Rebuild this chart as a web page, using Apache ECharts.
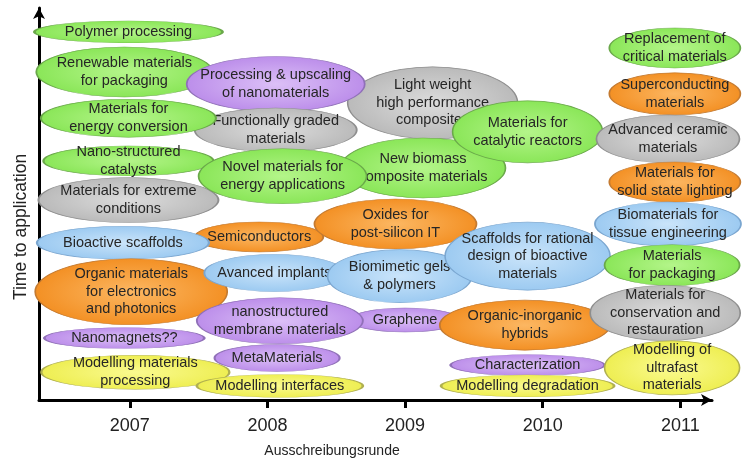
<!DOCTYPE html>
<html>
<head>
<meta charset="utf-8">
<script src="https://cdn.jsdelivr.net/npm/echarts@6/dist/echarts.min.js"></script>
<style>
html,body{margin:0;padding:0;background:#fff;}
#main{width:754px;height:458px;}
</style>
</head>
<body>
<div id="main"></div>
<script>
// ---- data (listed in drawing order, back to front) ----
const labels = [
  'Polymer processing',
  'Renewable materials\nfor packaging',
  'Light weight\nhigh performance\ncomposites',
  'Processing & upscaling\nof nanomaterials',
  'Functionally graded\nmaterials',
  'Materials for\nenergy conversion',
  'Nano-structured\ncatalysts',
  'Materials for extreme\nconditions',
  'New biomass\ncomposite materials',
  'Novel materials for\nenergy applications',
  'Materials for\ncatalytic reactors',
  'Semiconductors',
  'Bioactive scaffolds',
  'Organic materials\nfor electronics\nand photonics',
  'Avanced implants',
  'Oxides for\npost-silicon IT',
  'Biomimetic gels\n& polymers',
  'Scaffolds for rational\ndesign of bioactive\nmaterials',
  'Graphene',
  'nanostructured\nmembrane materials',
  'Organic-inorganic\nhybrids',
  'Nanomagnets??',
  'Modelling materials\nprocessing',
  'MetaMaterials',
  'Modelling interfaces',
  'Characterization',
  'Replacement of\ncritical materials',
  'Superconducting\nmaterials',
  'Advanced ceramic\nmaterials',
  'Materials for\nsolid state lighting',
  'Biomaterials for\ntissue engineering',
  'Materials\nfor packaging',
  'Materials for\nconservation and\nrestauration',
  'Modelling of\nultrafast\nmaterials',
  'Modelling degradation'
];
// Ausschreibungsrunde (call round, year)
const rounds = [
  2006.99, 2006.96, 2009.20, 2008.06, 2008.06, 2006.99, 2006.99, 2006.99,
  2009.13, 2008.11, 2009.89, 2007.94, 2006.95, 2007.01, 2008.05, 2008.93,
  2008.96, 2009.89, 2009.00, 2008.09, 2009.87, 2006.96, 2007.04, 2008.07,
  2008.09, 2009.89, 2010.96, 2010.96, 2010.91, 2010.96, 2010.91, 2010.94,
  2010.89, 2010.94, 2009.89
];
// Time to application (relative scale 0..100)
const timeToApplication = [
  93.9, 83.7, 75.8, 80.6, 68.9, 71.9, 61.0, 51.0,
  59.2, 57.1, 68.4, 41.6, 40.1, 27.6, 32.4, 44.9,
  31.6, 36.7, 20.4, 20.2, 19.1, 15.8, 7.1, 10.7,
  3.6, 8.9, 89.8, 78.1, 66.6, 55.6, 44.9, 34.4,
  22.2, 8.2, 3.6
];
const fields = [
  'green','green','gray','purple','gray','green','green','gray',
  'green','green','green','orange','blue','orange','blue','orange',
  'blue','blue','purple','purple','orange','purple','yellow','purple',
  'yellow','purple','green','orange','gray','orange','blue','green',
  'gray','yellow','yellow'
];
const xTickValues = [2007, 2008, 2009, 2010, 2011];

// ---- styling (not data) ----
const ellipseSizes = [
  [188,22],[176,50],[170,72],[178,55],[162,44],[175,38],[170,30],[180,45],
  [165,60],[168,55],[150,62],[128,30],[172,33],[192,66],[140,37],[162,50],
  [144,53],[165,68],[112,24],[166,46],[170,50],[160,21],[188,34],[125,27],
  [166,23],[154,21],[131,40],[131,42],[143,48],[131,40],[146,44],[135,41],
  [150,55],[135,54],[173,22]
];
const palette = {
  green:  ['#b4f58a','#8ae658','#6aa84a'],
  purple: ['#dcc0f7','#bc8eea','#9070b8'],
  gray:   ['#dcdcdc','#bababa','#8e8e8e'],
  orange: ['#fcb762','#f39024','#c47a30'],
  blue:   ['#cae4fa','#9ccaf1','#7aa6d0'],
  yellow: ['#fafa90','#eeee52','#b0b050']
};
const FONT = '"Liberation Sans", Arial, sans-serif';

const series = labels.map(function (lab, i) {
  const p = palette[fields[i]];
  return {
    type: 'scatter',
    z: 2 + i,
    silent: true,
    symbol: 'circle',
    symbolSize: ellipseSizes[i],
    data: [[rounds[i], timeToApplication[i]]],
    itemStyle: {
      opacity: 1,
      color: {
        type: 'radial', x: 0.5, y: 0.5, r: 0.5,
        colorStops: [{offset: 0, color: p[0]}, {offset: 1, color: p[1]}]
      },
      borderColor: p[2],
      borderWidth: 1
    },
    label: {
      show: true,
      position: 'inside',
      formatter: lab,
      color: '#262626',
      fontFamily: FONT,
      fontSize: 14.5,
      lineHeight: 17.5,
      align: 'center'
    },
    labelLayout: { hideOverlap: false }
  };
});

const chart = echarts.init(document.getElementById('main'), null, {renderer: 'canvas'});
chart.setOption({
  animation: false,
  backgroundColor: '#ffffff',
  grid: { left: 39, right: 42, top: 8, bottom: 58, containLabel: false },
  xAxis: {
    type: 'value',
    min: 2006.34,
    max: 2011.23,
    splitLine: { show: false },
    axisLine: {
      show: true,
      symbol: ['none', 'arrow'],
      symbolSize: [9, 11],
      lineStyle: { color: '#000', width: 3 }
    },
    axisTick: {
      show: true,
      customValues: xTickValues,
      length: 8,
      lineStyle: { color: '#000', width: 3 }
    },
    axisLabel: {
      show: true,
      customValues: xTickValues,
      formatter: function (v) { return String(Math.round(v)); },
      fontFamily: FONT,
      fontSize: 18,
      color: '#222',
      margin: 17
    }
  },
  yAxis: {
    type: 'value',
    min: 0,
    max: 100,
    splitLine: { show: false },
    axisTick: { show: false },
    axisLabel: { show: false },
    axisLine: {
      show: true,
      onZero: false,
      symbol: ['none', 'arrow'],
      symbolSize: [9, 11],
      lineStyle: { color: '#000', width: 3 }
    }
  },
  graphic: [
    {
      type: 'text',
      x: 332, y: 451,
      style: {
        text: 'Ausschreibungsrunde',
        fill: '#222',
        font: '14px ' + FONT,
        textAlign: 'center',
        textVerticalAlign: 'middle'
      }
    },
    {
      type: 'text',
      x: 21, y: 227,
      rotation: Math.PI / 2,
      style: {
        text: 'Time to application',
        fill: '#222',
        font: '17.5px ' + FONT,
        textAlign: 'center',
        textVerticalAlign: 'middle'
      }
    }
  ],
  series: series
});
</script>
</body>
</html>
